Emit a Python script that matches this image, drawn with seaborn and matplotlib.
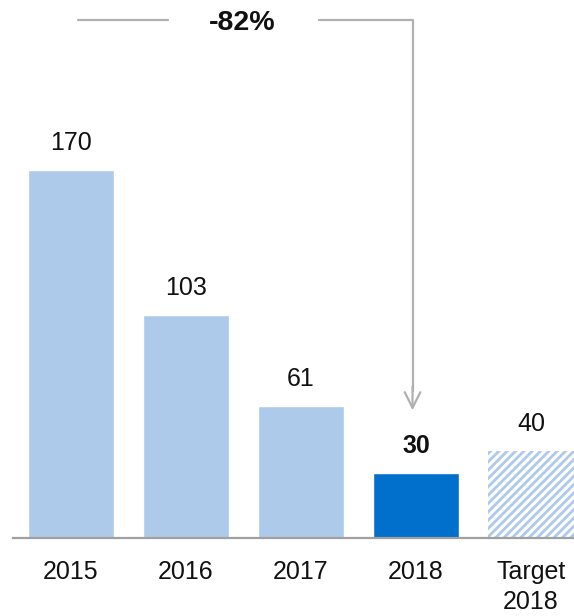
import numpy as np
import seaborn as sns
import matplotlib.pyplot as plt

sns.set_theme(style="white")
plt.rcParams['font.family'] = ['Liberation Sans', 'DejaVu Sans']
plt.rcParams['hatch.linewidth'] = 2.0
plt.rcParams['hatch.color'] = '#aecaea'

# data
categories = ['2015', '2016', '2017', '2018', 'Target\n2018']
values = [170, 103, 61, 30, 40]
bar_colors = ['#aecaea', '#aecaea', '#aecaea', '#0070cc', 'white']
change_label = '-82%'

fig = plt.figure(figsize=(5.74, 6.16), dpi=100)
ax = fig.add_axes([13 / 574, (616 - 538) / 616, 561 / 574, 538 / 616])

sns.barplot(x=categories, y=values, hue=categories, palette=bar_colors,
            legend=False, width=0.748, ax=ax, saturation=1)

# hatched target bar
ax.patches[-1].set_hatch('////')
ax.patches[-1].set_edgecolor('#aecaea')
ax.patches[-1].set_linewidth(0)

ax.set_xlim(-0.504, 4.374)
ax.set_ylim(0, 248.5)

for i, v in enumerate(values):
    ax.text(i, v + 7, str(v), ha='center', va='bottom', fontsize=18,
            color='#111111', fontweight='bold' if i == 3 else 'normal')

# change annotation
top = 239.3
ax.plot([0.06, 0.84], [top, top], color='#b0b0b0', lw=1.6, clip_on=False)
ax.text(1.49, top - 1.2, change_label, ha='center', va='center', fontsize=20.5,
        fontweight='bold', color='#111111')
ax.plot([2.16, 2.97, 2.97], [top, top, 68], color='#b0b0b0', lw=1.6,
        clip_on=False)
ax.annotate('', xy=(2.97, 59), xytext=(2.97, 70),
            arrowprops=dict(arrowstyle='->', color='#b0b0b0', lw=1.6,
                            mutation_scale=28, shrinkA=0, shrinkB=0))

sns.despine(ax=ax, left=True)
ax.spines['bottom'].set_color('#a0a0a0')
ax.spines['bottom'].set_linewidth(1.6)
ax.set_yticks([])
ax.tick_params(axis='x', length=0, pad=16, labelsize=18, labelcolor='#111111')
for lab in ax.get_xticklabels():
    lab.set_linespacing(1.3)
ax.set_xlabel('')
ax.set_ylabel('')

fig.savefig('out.png', dpi=100)
